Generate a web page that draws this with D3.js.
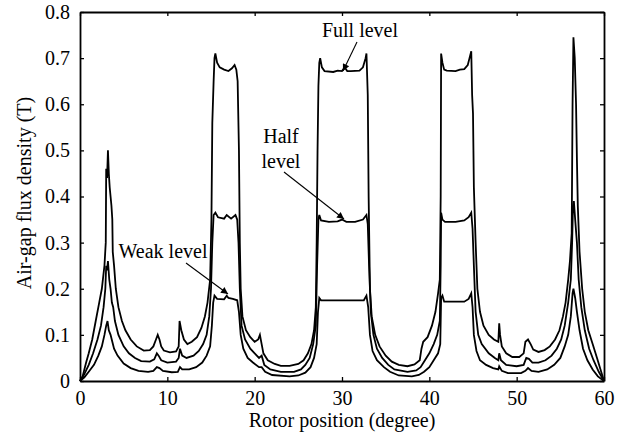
<!DOCTYPE html>
<html><head><meta charset="utf-8">
<script src="https://cdn.jsdelivr.net/npm/d3@7"></script>
<style>body{margin:0;background:#fff}svg{display:block}text{font-family:"Liberation Serif","Times New Roman",serif;fill:#000}</style>
</head><body><svg id="c" width="628" height="441"></svg>
<script>
const xTicks=[0,10,20,30,40,50,60];
const yTicks=[0,0.1,0.2,0.3,0.4,0.5,0.6,0.7,0.8];
const yTickLabels=["0","0.1","0.2","0.3","0.4","0.5","0.6","0.7","0.8"];
const xLabel="Rotor position (degree)";
const yLabel="Air-gap flux density (T)";

const fullX=[0,0.3,0.7,1.0,1.4,1.8,2.2,2.5,2.8,2.95,3.0,3.1,3.2,3.3,3.4,3.5,3.6,3.7,3.75,3.9,4.1,4.4,4.8,5.2,5.8,6.5,7.3,8.0,8.4,8.7,8.9,9.1,9.3,9.6,10.3,11.0,11.3,11.4,11.6,11.9,12.3,12.8,13.4,13.9,14.3,14.6,14.9,15.05,15.15,15.3,15.4,15.5,15.7,16.0,16.5,17.0,17.4,17.7,17.9,18.05,18.2,18.3,18.4,18.6,19.0,19.5,20.0,20.4,20.6,20.8,21.0,21.5,22.3,23.0,24.0,25.0,25.6,26.1,26.5,26.8,27.0,27.1,27.2,27.3,27.4,27.5,27.7,28.0,29.0,29.5,30.0,30.3,30.6,31.0,32.0,32.4,32.7,32.8,32.95,33.05,33.2,33.4,33.8,34.3,35.0,35.7,36.5,37.5,38.3,38.9,39.1,39.3,39.8,40.3,40.7,41.0,41.2,41.3,41.35,41.5,41.7,42.0,43.0,43.5,44.0,44.4,44.6,44.8,44.9,45.0,45.1,45.3,45.5,45.8,46.2,46.8,47.4,47.9,48.0,48.1,48.3,48.8,49.5,50.3,50.8,51.0,51.3,51.6,51.9,52.5,53.2,53.8,54.4,54.9,55.3,55.6,55.9,56.1,56.3,56.4,56.5,56.65,56.8,56.9,57.0,57.2,57.5,57.8,58.2,58.7,59.2,59.6,60];
const fullY=[0,0.01,0.04,0.06,0.09,0.13,0.17,0.2,0.25,0.3,0.46,0.44,0.5,0.45,0.42,0.4,0.38,0.35,0.28,0.25,0.2,0.16,0.13,0.11,0.09,0.075,0.066,0.067,0.075,0.09,0.1,0.09,0.075,0.066,0.062,0.064,0.075,0.13,0.11,0.09,0.08,0.085,0.095,0.115,0.14,0.17,0.22,0.35,0.56,0.65,0.7,0.71,0.69,0.68,0.675,0.672,0.678,0.685,0.675,0.65,0.5,0.3,0.2,0.14,0.11,0.095,0.085,0.09,0.1,0.08,0.06,0.045,0.037,0.033,0.033,0.037,0.045,0.06,0.08,0.11,0.16,0.3,0.5,0.64,0.69,0.7,0.68,0.672,0.67,0.673,0.672,0.68,0.672,0.672,0.673,0.68,0.7,0.71,0.62,0.4,0.2,0.14,0.1,0.075,0.055,0.042,0.035,0.032,0.036,0.045,0.07,0.085,0.095,0.12,0.15,0.19,0.22,0.4,0.71,0.69,0.675,0.673,0.672,0.675,0.676,0.685,0.7,0.715,0.62,0.58,0.42,0.3,0.2,0.15,0.12,0.1,0.09,0.085,0.125,0.1,0.075,0.06,0.052,0.052,0.06,0.085,0.09,0.08,0.068,0.063,0.067,0.075,0.09,0.11,0.14,0.17,0.22,0.26,0.32,0.6,0.745,0.7,0.6,0.48,0.38,0.28,0.2,0.15,0.11,0.08,0.05,0.025,0];

const halfX=[0,0.5,1.0,1.5,2.0,2.4,2.7,2.9,3.0,3.1,3.2,3.35,3.5,3.65,3.8,4.0,4.4,5.0,5.6,6.3,7.0,8.0,8.5,8.8,9.0,9.3,10.0,11.0,11.3,11.45,11.7,12.2,13.0,13.6,14.1,14.5,14.8,15.0,15.15,15.3,15.5,15.8,16.5,16.8,17.3,17.8,18.0,18.15,18.3,18.5,18.9,19.5,20.0,20.5,20.8,21.1,21.8,23.0,24.5,25.3,25.8,26.3,26.7,27.0,27.15,27.3,27.4,27.6,28.5,29.5,30.0,30.5,31.5,32.4,32.8,32.95,33.1,33.3,33.6,34.0,34.6,35.3,36.0,37.5,38.5,39.0,39.5,40.0,40.5,40.9,41.2,41.3,41.35,41.5,41.8,43.0,44.0,44.5,44.8,44.95,45.1,45.3,45.6,46.0,46.8,47.5,47.9,48.0,48.2,48.8,50.0,50.8,51.1,51.4,51.8,52.5,53.3,54.0,54.6,55.1,55.5,55.9,56.2,56.35,56.45,56.55,56.7,56.9,57.1,57.4,57.8,58.3,58.8,59.4,60];
const halfY=[0,0.015,0.035,0.06,0.09,0.12,0.16,0.2,0.25,0.24,0.26,0.22,0.2,0.17,0.16,0.13,0.1,0.075,0.06,0.05,0.043,0.042,0.047,0.06,0.055,0.045,0.04,0.042,0.05,0.07,0.055,0.05,0.055,0.065,0.08,0.1,0.14,0.2,0.3,0.36,0.365,0.355,0.352,0.36,0.352,0.36,0.35,0.3,0.2,0.12,0.09,0.07,0.06,0.05,0.055,0.035,0.025,0.02,0.02,0.025,0.035,0.05,0.08,0.12,0.25,0.35,0.36,0.348,0.345,0.346,0.35,0.345,0.345,0.35,0.36,0.34,0.25,0.15,0.1,0.07,0.05,0.035,0.025,0.02,0.023,0.03,0.045,0.06,0.08,0.1,0.13,0.25,0.365,0.35,0.345,0.345,0.348,0.355,0.365,0.33,0.25,0.15,0.1,0.08,0.06,0.05,0.045,0.06,0.045,0.035,0.032,0.035,0.05,0.048,0.04,0.04,0.045,0.055,0.07,0.09,0.12,0.17,0.22,0.3,0.38,0.39,0.35,0.3,0.22,0.16,0.11,0.07,0.045,0.02,0];

const weakX=[0,0.5,1.0,1.6,2.1,2.5,2.8,3.0,3.15,3.3,3.5,3.7,3.9,4.3,5.0,5.8,6.7,7.8,8.4,8.8,9.1,9.5,10.5,11.2,11.45,11.7,12.5,13.3,14.0,14.5,14.9,15.1,15.25,15.4,15.7,16.5,16.8,17.0,17.5,18.0,18.2,18.4,18.7,19.2,19.8,20.5,20.8,21.2,22.0,24.0,25.0,25.8,26.4,26.8,27.1,27.25,27.4,27.6,32.5,32.8,33.0,33.2,33.5,34.0,34.8,35.5,36.5,38.0,38.8,39.4,40.0,40.5,41.0,41.25,41.35,41.5,41.7,44.0,44.5,44.8,44.95,45.1,45.4,45.8,46.5,47.3,47.9,48.0,48.3,49.0,50.5,51.0,51.3,51.7,52.5,53.5,54.3,55.0,55.5,55.9,56.2,56.4,56.5,56.7,56.9,57.2,57.6,58.1,58.7,59.3,60];
const weakY=[0,0.008,0.02,0.035,0.055,0.075,0.1,0.12,0.13,0.11,0.1,0.085,0.07,0.055,0.038,0.028,0.022,0.02,0.022,0.03,0.028,0.022,0.019,0.02,0.03,0.025,0.025,0.03,0.04,0.055,0.075,0.12,0.17,0.185,0.178,0.177,0.185,0.18,0.178,0.175,0.15,0.1,0.07,0.05,0.04,0.03,0.03,0.02,0.013,0.01,0.012,0.018,0.03,0.05,0.08,0.15,0.18,0.175,0.175,0.185,0.16,0.1,0.065,0.045,0.03,0.02,0.012,0.01,0.013,0.02,0.03,0.045,0.06,0.08,0.18,0.185,0.172,0.172,0.178,0.19,0.16,0.1,0.065,0.045,0.035,0.028,0.025,0.032,0.022,0.017,0.017,0.022,0.028,0.022,0.02,0.025,0.035,0.05,0.075,0.1,0.14,0.19,0.2,0.18,0.15,0.11,0.07,0.045,0.025,0.01,0];

const svg=d3.select("#c");
const L=80,R=604,T=12,B=381;
const FS=20;
const x=d3.scaleLinear().domain([0,60]).range([L,R]);
const y=d3.scaleLinear().domain([0,0.8]).range([B,T]);

const series=[[fullX,fullY],[halfX,halfY],[weakX,weakY]];
const line=d3.line().x(d=>x(d[0])).y(d=>y(d[1]));
series.forEach(([xs,ys])=>{
  svg.append("path").datum(xs.map((v,i)=>[v,ys[i]]))
    .attr("d",line).attr("fill","none").attr("stroke","#000").attr("stroke-width",1.8).attr("stroke-linejoin","miter");
});

const fmtY=(d,i)=>yTickLabels[i];
const gB=svg.append("g").attr("transform",`translate(0,${B})`).call(d3.axisBottom(x).tickValues(xTicks).tickSizeInner(-4).tickSizeOuter(0).tickPadding(10));
const gT=svg.append("g").attr("transform",`translate(0,${T})`).call(d3.axisTop(x).tickValues(xTicks).tickSizeInner(-4).tickSizeOuter(0).tickFormat(""));
const gL=svg.append("g").attr("transform",`translate(${L},0)`).call(d3.axisLeft(y).tickValues(yTicks).tickSizeInner(-4).tickSizeOuter(0).tickPadding(10).tickFormat(fmtY));
const gR=svg.append("g").attr("transform",`translate(${R},0)`).call(d3.axisRight(y).tickValues(yTicks).tickSizeInner(-4).tickSizeOuter(0).tickFormat(""));
[gB,gT,gL,gR].forEach(g=>{
  g.selectAll("path").attr("stroke","#000").attr("stroke-width",1.8);
  g.selectAll("line").attr("stroke","#000").attr("stroke-width",1.3);
  g.selectAll("text").attr("font-family","Liberation Serif, Times New Roman, serif").attr("font-size",FS).attr("fill","#000");
});
gB.selectAll("text").attr("dy","0.7em");

svg.append("text").attr("x",342).attr("y",427).attr("text-anchor","middle").attr("font-size",FS).text(xLabel);
svg.append("text").attr("transform","translate(31,193) rotate(-90)").attr("text-anchor","middle").attr("font-size",FS).text(yLabel);

const defs=svg.append("defs");
defs.append("marker").attr("id","ah").attr("viewBox","0 0 10 10").attr("refX",10).attr("refY",5)
  .attr("markerWidth",10).attr("markerHeight",7).attr("markerUnits","userSpaceOnUse").attr("orient","auto")
  .append("path").attr("d","M0,0L10,5L0,10z").attr("fill","#000");
function arrow(x1,y1,x2,y2){svg.append("line").attr("x1",x1).attr("y1",y1).attr("x2",x2).attr("y2",y2).attr("stroke","#000").attr("stroke-width",1.1).attr("marker-end","url(#ah)");}
svg.append("text").attr("x",360).attr("y",37).attr("text-anchor","middle").attr("font-size",FS).text("Full level");
arrow(357,42,343,71);
svg.append("text").attr("x",281).attr("y",143).attr("text-anchor","middle").attr("font-size",FS).text("Half");
svg.append("text").attr("x",281).attr("y",168).attr("text-anchor","middle").attr("font-size",FS).text("level");
arrow(284,172,344,219);
svg.append("text").attr("x",163).attr("y",258).attr("text-anchor","middle").attr("font-size",FS).text("Weak level");
arrow(186,263,228,294);
</script></body></html>
